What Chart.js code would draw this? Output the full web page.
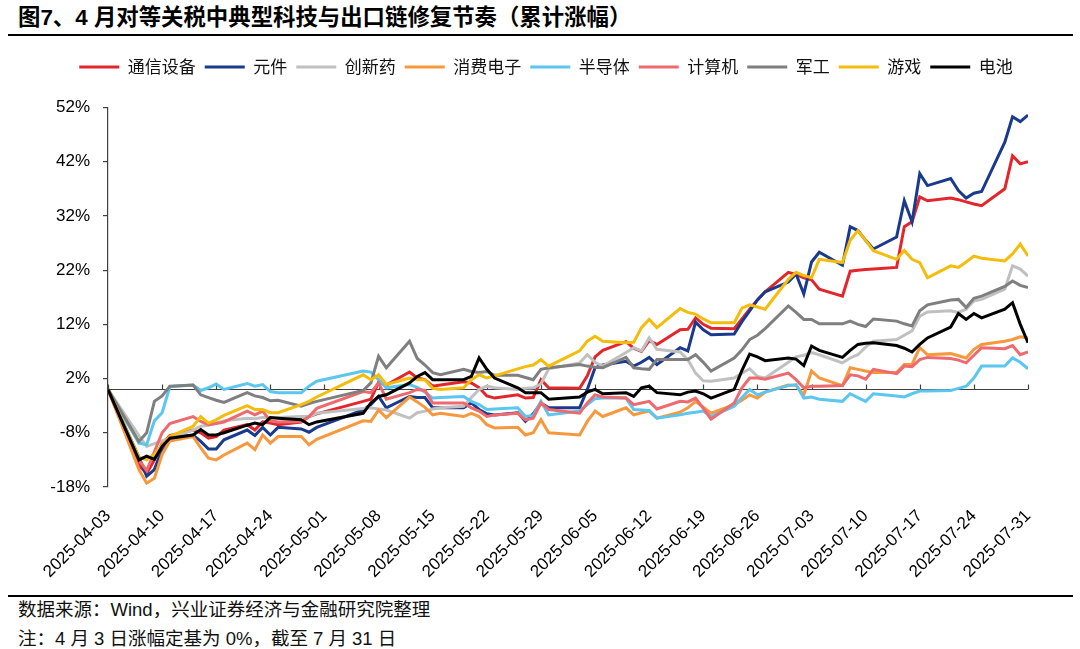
<!DOCTYPE html>
<html lang="zh-CN">
<head>
<meta charset="utf-8">
<title>图7 典型科技与出口链修复节奏</title>
<script src="https://cdn.jsdelivr.net/npm/chart.js@4.4.1/dist/chart.umd.min.js"></script>
<style>
  html, body { margin: 0; padding: 0; background: #fff; }
  body {
    width: 1080px; height: 649px; position: relative; overflow: hidden;
    font-family: "Liberation Sans", "Noto Sans CJK SC", sans-serif; color: #000;
  }
  #title {
    position: absolute; left: 18px; top: 3px;
    font-size: 22.4px; font-weight: bold; line-height: 30px; white-space: nowrap;
  }
  .rule { position: absolute; left: 8px; width: 1065px; background: #000; }
  #rule-top { top: 34px; height: 2px; }
  #rule-bottom { top: 595px; height: 1.5px; }
  #chart-box { position: absolute; left: 0; top: 40px; width: 1080px; height: 555px; }
  .note {
    position: absolute; left: 18px; font-size: 18.5px; line-height: 24px;
    white-space: nowrap; color: #111;
  }
  #source { top: 598px; }
  #remark { top: 627px; }
</style>
</head>
<body>
<div id="title">图7、4 月对等关税中典型科技与出口链修复节奏（累计涨幅）</div>
<div class="rule" id="rule-top"></div>
<div id="chart-box"><canvas id="repairChart"></canvas></div>
<div class="rule" id="rule-bottom"></div>
<div class="note" id="source">数据来源：Wind，兴业证券经济与金融研究院整理</div>
<div class="note" id="remark">注：4 月 3 日涨幅定基为 0%，截至 7 月 31 日</div>

<script>
// Trading days (2025), cumulative change since 04-03, in %
const tradeDates = [
  '04-03','04-07','04-08','04-09','04-10','04-11','04-14','04-15','04-16','04-17','04-18',
  '04-21','04-22','04-23','04-24','04-25','04-28','04-29','04-30',
  '05-06','05-07','05-08','05-09','05-12','05-13','05-14','05-15','05-16','05-19','05-20',
  '05-21','05-22','05-23','05-26','05-27','05-28','05-29','05-30',
  '06-03','06-04','06-05','06-06','06-09','06-10','06-11','06-12','06-13','06-16','06-17',
  '06-18','06-19','06-20','06-23','06-24','06-25','06-26','06-27','06-30',
  '07-01','07-02','07-03','07-04','07-07','07-08','07-09','07-10','07-11','07-14','07-15',
  '07-16','07-17','07-18','07-21','07-22','07-23','07-24','07-25','07-28','07-29','07-30','07-31'
];

const seriesNames = ['通信设备', '元件', '创新药', '消费电子', '半导体', '计算机', '军工', '游戏', '电池'];
const seriesColors = ['#E3262B', '#1A3A8E', '#C0C0C0', '#F7983C', '#5BC6EF', '#EE6A6E', '#7F7F7F', '#F4BC0B', '#000000'];

const tongxin = [
  0, -14, -15.5, -13, -10, -8.5, -7.5, -8, -9, -8.7, -7.5, -6.5, -7.5, -6, -6.2, -6.5, -6, -5, -4.5,
  -2.2, -1.8, 1.3, 0.8, 3.2, 2.1, 1.8, 0.6, 0.8, 1.4, 1.2, 0.3, -1.2, -1.6, -1, -1.6, -1.5, 1.8, 0.3,
  0.2, 2.5, 6, 7.2, 8.8, 7.6, 7, 9, 8.3, 11, 11.1, 13.2, 12, 11.3, 11.2, 13, 14.8, 16.5, 18, 21.6,
  21.2, 20.6, 20.2, 18.5, 17.2, 21.8, 22, 22.1, 22.2, 22.5, 30, 30.9, 35.5, 34.8, 35.3, 35, 34.6, 34.2, 33.9, 37, 43.1, 41.6, 42
];
const yuanjian = [
  0, -12.5, -16, -14.8, -11, -9, -8.4, -9.6, -11, -11, -9.3, -7.5, -8.5, -7, -8.4, -7, -7.3, -7.9, -7,
  -3.8, -2.8, -1.3, -3.4, -1.3, -1.5, -1.5, -3.4, -3.4, -3.4, -2.5, -3.7, -4.5, -4.7, -4.3, -5.9, -4.5, -2.5, -3.4,
  -3.4, 0, 4, 4.5, 5.2, 4.3, 5, 5.9, 4.6, 7.7, 7.1, 12.4, 11, 10.1, 10.2, 12.5, 14.5, 16.5, 18, 19.8,
  21.3, 17.6, 23.5, 25.3, 22.9, 30, 29.3, 27.5, 25.9, 28.1, 34.8, 30.9, 39.8, 37.6, 38.9, 36.7, 35.3, 36.2, 36.5, 45.6, 50.3, 49.4, 50.6
];
const chuangxinyao = [
  0, -8.5, -10.5, -10, -9.5, -9, -7.5, -6.8, -6.6, -6.2, -5.8, -5.3, -5.4, -5.2, -5.2, -5.2, -5, -5, -4.4,
  -3.5, -3.4, -3.6, -3.8, -5.3, -4.3, -4, -3.6, -3.4, -3.1, -1.5, 0, 0.6, 0.3, 0, 0.2, 0.3, 1, 3.8,
  4.9, 6.4, 5, 4.3, 6.8, 7.7, 7.1, 9.5, 7.4, 6.9, 5.5, 3, 1.6, 1.5, 2.1, 3, 3.8, 2.4, 2.1, 5,
  6, 6.3, 6.8, 6.4, 4.9, 5.8, 6.4, 7.8, 8.9, 9.2, 10, 10.8, 13.5, 14.3, 14.5, 14.2, 14.8, 16.3, 16.6, 18.5, 22.8, 22.2, 20.9
];
const xiaofei = [
  0, -14.8, -17.3, -16.4, -12, -9.5, -8.7, -10.8, -12.7, -13, -12.1, -9.9, -11.1, -8.4, -9.9, -8.7, -8.7, -10.2, -9.2,
  -5.8, -5.9, -3.8, -5.2, -1.4, -2.3, -3.3, -4.7, -4.4, -5, -4.4, -5, -6.5, -7.1, -7, -8.4, -8, -5.6, -8,
  -8.4, -5.9, -4, -5, -3.4, -4.7, -4.3, -4, -5.3, -4.2, -3.4, -2.2, -3.3, -4.4, -2.8, -2, -1, -1.6, -0.5, 0.8,
  0.7, -1, 3.4, 2.1, 0.7, 4, 3.7, 3.4, 3.1, 3.1, 4.6, 4.6, 7.7, 6.4, 6.6, 6.2, 5.8, 7.4, 8.3, 8.9, 9.2, 9.7, 9.5
];
const bandaoti = [
  0, -9.9, -10.2, -5.8, -4.3, 0.5, 0.8, -0.2, 0.3, 1, 0, 1.1, 0.6, 0.9, -0.4, -0.6, -0.6, 0.6, 1.5,
  3.4, 3.2, 1.8, 0.3, 0.9, 0.4, -0.5, -1.6, -1.5, -1.3, -2.2, -2.8, -3.7, -3.6, -3.4, -5, -4.8, -2.2, -4.7,
  -4, -2.8, -1.7, -1.6, -1.6, -3.7, -3.8, -3.9, -5.3, -4.7, -4.4, -4.2, -4, -5, -3.1, -1.5, 0, -1, -0.5, 0.7,
  0.9, -1.6, -1.4, -1.8, -2.2, -0.8, -1.5, -2.2, -0.8, -1.2, -1.4, -0.8, -0.3, -0.3, -0.2, 0.2, 0.6, 2.1, 4.3, 4.3, 5.8, 5, 3.8
];
const jisuanji = [
  0, -13, -15, -11.5, -8, -6.3, -5, -5.9, -6.5, -6.3, -6, -4, -4.7, -4, -5.8, -6, -5.9, -5, -3.5,
  -0.4, -0.6, 1.2, -1.8, -0.6, 0, -0.2, -2.5, -2.5, -2.5, -3.4, -4, -5, -4.7, -4.4, -5.6, -5.3, -2.5, -3.7,
  -4.4, -2.5, -1, -1.4, -1.6, -2.8, -2.5, -2.2, -3.6, -2.2, -2.3, -1.6, -3.5, -5.5, -2.5, 0.3, 2.1, 2.1, 1.9, 3,
  1.8, 0.3, 0.6, 0.6, 0.7, 2.7, 2.5, 1.9, 3.7, 2.9, 4.3, 4.2, 5.5, 5.9, 5.7, 5.4, 4.9, 6.3, 7.7, 7.5, 8.1, 6.4, 6.9
];
const jungong = [
  0, -9.6, -8, -2.2, -1.2, 0.6, 0.8, -1, -1.5, -2, -2.4, -0.6, -1.2, -1.5, -2.1, -2, -3.1, -2.6, -2.2,
  -0.2, 1.2, 6.1, 4, 8.9, 5.7, 4.5, 3.1, 2.7, 3.7, 3.3, 3.1, 3.3, 2.6, 2.6, 2.2, 1.8, 3.7, 4,
  4.6, 4.3, 4.1, 4, 5.9, 4, 3.8, 3.7, 5.5, 5.5, 5.5, 6.4, 5, 3.4, 5.8, 7.3, 9.2, 10, 11.2, 15.4,
  14.2, 12.9, 12.9, 12.1, 12.1, 12.6, 12, 11.6, 13, 12.6, 12.1, 11.7, 14.5, 15.6, 16.5, 16.6, 15.1, 16.8, 17.2, 19, 20, 19.2, 18.8
];
const youxi = [
  0, -12.5, -13, -12, -10.2, -8.7, -6.8, -5, -6.2, -5.6, -4.8, -3, -3.7, -3.7, -4.3, -4.3, -2.8, -2.2, -1.4,
  2.7, 1.8, 2.7, 0.9, 2.1, 1.8, 1.8, 0.2, 0, 0.3, 1.8, 2.7, 2.1, 2.5, 3.8, 4.2, 4.5, 5.5, 4.3,
  7.1, 8.9, 9.8, 8.9, 8.6, 8.7, 11.4, 12.9, 11.4, 14.9, 14.2, 13.9, 13, 12.3, 12.3, 15, 15.6, 15.2, 14.8, 20.3,
  21.6, 21, 20.6, 24, 23.4, 27.5, 29.3, 27.5, 25.6, 24, 25.6, 24, 23.4, 20.6, 22.8, 22.5, 23.5, 24.6, 24.2, 23.7, 25, 26.8, 24.6
];
const dianchi = [
  0, -13, -12.3, -12.9, -10.5, -9, -8.4, -7.4, -8.4, -8.4, -8, -6.6, -6.2, -6.5, -5.2, -5.3, -5.6, -6.5, -6,
  -4.4, -2.5, -1.3, -1, 1.2, 2.4, 3.1, 1.8, 1.8, 1.8, 2.4, 5.8, 3.7, 2.1, 0.3, -0.6, -0.6, -0.6, -1.8,
  -1.4, -0.5, 0, -0.8, -0.6, -1.3, 0.3, 0.6, -0.6, -1, -0.5, -0.3, -0.8, -1.6, 0, 3.5, 6.5, 6, 5.3, 5.8,
  5.6, 4.4, 8, 7.2, 5.9, 7.2, 8.3, 8.5, 8.6, 8.1, 7.6, 6.9, 8.3, 9.5, 11.5, 14, 12.9, 14, 13.2, 14.8, 16, 12, 8.6
];
const seriesValues = [tongxin, yuanjian, chuangxinyao, xiaofei, bandaoti, jisuanji, jungong, youxi, dianchi];

const xTickLabels = [
  '2025-04-03', '2025-04-10', '2025-04-17', '2025-04-24', '2025-05-01', '2025-05-08',
  '2025-05-15', '2025-05-22', '2025-05-29', '2025-06-05', '2025-06-12', '2025-06-19',
  '2025-06-26', '2025-07-03', '2025-07-10', '2025-07-17', '2025-07-24', '2025-07-31'
];
const yTicks = [-18, -8, 2, 12, 22, 32, 42, 52];

// days elapsed since 2025-04-03, used as the x value
function dayIndex(s) {
  const parts = s.split('-').map(Number);
  const m = parts.length === 3 ? parts[1] : parts[0];
  const d = parts.length === 3 ? parts[2] : parts[1];
  return Math.round((Date.UTC(2025, m - 1, d) - Date.UTC(2025, 3, 3)) / 86400000);
}

const axisColor = '#404040';
const tickFont = { family: '"Liberation Sans", Arial, sans-serif', size: 17 };

// horizontal axis line through 0% with upward tick marks (Excel style)
const zeroAxis = {
  id: 'zeroAxis',
  beforeDatasetsDraw(chart) {
    const { ctx, chartArea, scales } = chart;
    const y0 = Math.round(scales.y.getPixelForValue(0)) + 0.5;
    ctx.save();
    ctx.strokeStyle = axisColor;
    ctx.lineWidth = 1.2;
    ctx.beginPath();
    ctx.moveTo(chartArea.left, y0);
    ctx.lineTo(chartArea.right, y0);
    scales.x.ticks.forEach(t => {
      const px = Math.round(scales.x.getPixelForValue(t.value)) + 0.5;
      ctx.moveTo(px, y0);
      ctx.lineTo(px, y0 - 5);
    });
    ctx.stroke();
    ctx.restore();
  }
};

// extra room under the legend, and the legend row centred a bit right of the canvas middle
const legendPlace = {
  id: 'legendPlace',
  beforeInit(chart) {
    const fit = chart.legend.fit;
    chart.legend.fit = function () {
      fit.call(this);
      this.height += 22;
    };
  },
  afterLayout(chart) {
    const lg = chart.legend;
    lg.left = 64;
    lg.width = lg.right - lg.left;
  }
};

const datasets = seriesNames.map((name, i) => ({
  label: name,
  data: tradeDates.map((d, k) => ({ x: dayIndex(d), y: seriesValues[i][k] })),
  borderColor: seriesColors[i],
  backgroundColor: seriesColors[i],
  borderWidth: 3,
  pointRadius: 0,
  pointHoverRadius: 0,
  tension: 0,
  order: seriesNames.length - i
}));

const ctx = document.getElementById('repairChart').getContext('2d');
const repairChart = new Chart(ctx, {
  type: 'line',
  data: { datasets },
  plugins: [zeroAxis, legendPlace],
  options: {
    responsive: true,
    maintainAspectRatio: false,
    animation: false,
    layout: { padding: { top: 9.5, left: 0, right: 52, bottom: 0 } },
    plugins: {
      legend: {
        position: 'top',
        labels: {
          usePointStyle: true,
          pointStyle: 'line',
          pointStyleWidth: 40,
          padding: 9,
          color: '#111',
          font: { family: '"Noto Sans CJK SC", sans-serif', size: 17 },
          sort: (a, b) => a.datasetIndex - b.datasetIndex
        }
      },
      tooltip: { enabled: false }
    },
    scales: {
      x: {
        type: 'linear',
        min: 0,
        max: dayIndex(xTickLabels[xTickLabels.length - 1]),
        afterBuildTicks: scale => {
          scale.ticks = xTickLabels.map(s => ({ value: dayIndex(s) }));
        },
        afterFit: scale => { scale.height = 108; },
        grid: { display: false, drawTicks: false },
        border: { display: false },
        ticks: {
          autoSkip: false,
          minRotation: 45,
          maxRotation: 45,
          padding: 19,
          color: '#000',
          font: tickFont,
          callback: (v, idx) => xTickLabels[idx]
        }
      },
      y: {
        min: yTicks[0],
        max: yTicks[yTicks.length - 1],
        afterBuildTicks: scale => {
          scale.ticks = yTicks.map(v => ({ value: v }));
        },
        afterFit: scale => { scale.width = 108; },
        grid: { drawOnChartArea: false, drawTicks: true, tickLength: 5, color: axisColor, lineWidth: 1.2 },
        border: { display: true, color: axisColor, width: 1.2 },
        ticks: {
          padding: 13,
          color: '#000',
          font: tickFont,
          callback: v => v + '%'
        }
      }
    }
  }
});
</script>
</body>
</html>
